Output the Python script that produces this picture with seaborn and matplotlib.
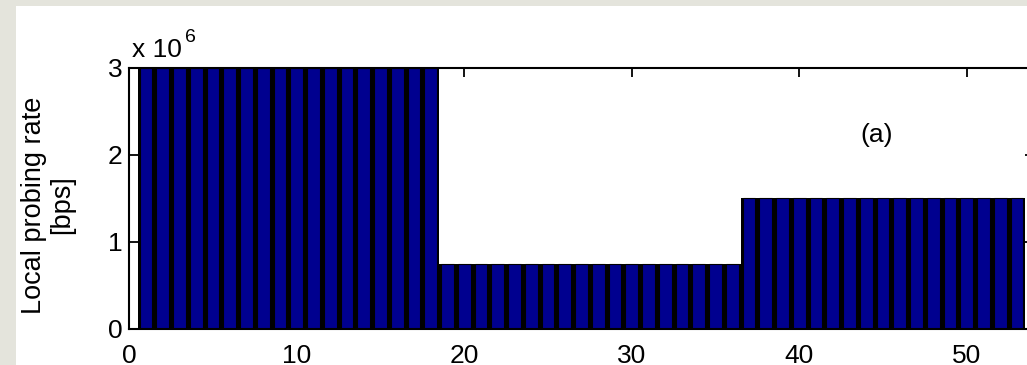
import numpy as np
import pandas as pd
import matplotlib
matplotlib.use("Agg")
import matplotlib.pyplot as plt
import seaborn as sns
from matplotlib.patches import Rectangle

# probe index and local probing rate (bps), three plateaus
probe_idx = list(range(1, 54))
rate_bps = [3.0e6] * 18 + [0.75e6] * 18 + [1.5e6] * 17
y_ticks = [0, 1e6, 2e6, 3e6]
y_tick_labels = ["0", "1", "2", "3"]
x_ticks = [0, 10, 20, 30, 40, 50]

df = pd.DataFrame({"idx": probe_idx, "rate": rate_bps})

sns.set_style("white")
plt.rcParams["font.family"] = ["Liberation Sans", "DejaVu Sans"]
plt.rcParams["text.color"] = "black"
plt.rcParams["axes.labelcolor"] = "black"

FS = 19
W, H = 1027, 365
fig = plt.figure(figsize=(W / 100, H / 100), dpi=100)
fig.set_facecolor("#e4e4dc")
fig.patches.append(Rectangle((16 / W, 0), 1, 1 - 6 / H, transform=fig.transFigure,
                             facecolor="white", edgecolor="none", zorder=-1))

left, right = 129.3, 129.3 + 54 * 16.75
top, bottom = 67.7, 329.0
ax = fig.add_axes([left / W, 1 - bottom / H, (right - left) / W, (bottom - top) / H])
ax.set_facecolor("white")

# black underlay (full width) + narrower blue bars on top
sns.barplot(data=df, x="idx", y="rate", native_scale=True, width=1.0,
            color="black", saturation=1, errorbar=None, linewidth=0, ax=ax)
sns.barplot(data=df, x="idx", y="rate", native_scale=True, width=0.76,
            color="#00008f", saturation=1, errorbar=None,
            edgecolor="black", linewidth=0.8, ax=ax)

ax.set_xlim(0, 54)
ax.set_ylim(0, 3e6)
ax.set_xticks(x_ticks)
ax.set_xticklabels([str(t) for t in x_ticks])
ax.set_yticks(y_ticks)
ax.set_yticklabels(y_tick_labels)
ax.set_xlabel("")
ax.tick_params(axis="both", direction="in", top=True, right=True, bottom=True, left=True,
               length=6.5, width=1.3, color="black", labelsize=FS, labelcolor="black")
ax.tick_params(axis="x", pad=11)
ax.tick_params(axis="y", pad=5)
for s in ax.spines.values():
    s.set_visible(True)
    s.set_color("black")
    s.set_linewidth(1.5)
    s.set_zorder(5)

ax.set_ylabel("Local probing rate\n[bps]", fontsize=FS + 0.5, color="black", linespacing=1.1)
ax.yaxis.set_label_coords(-0.060, 0.475)

# exponent label
fig.text(131.5 / W, 1 - 57 / H, "x 10", fontsize=FS, ha="left", va="baseline")
fig.text(184.5 / W, 1 - 42 / H, "6", fontsize=14, ha="left", va="baseline")

ax.text(44.64, 2.227e6, "(a)", fontsize=FS, ha="center", va="center")

fig.savefig("out.png", dpi=100, facecolor=fig.get_facecolor())
